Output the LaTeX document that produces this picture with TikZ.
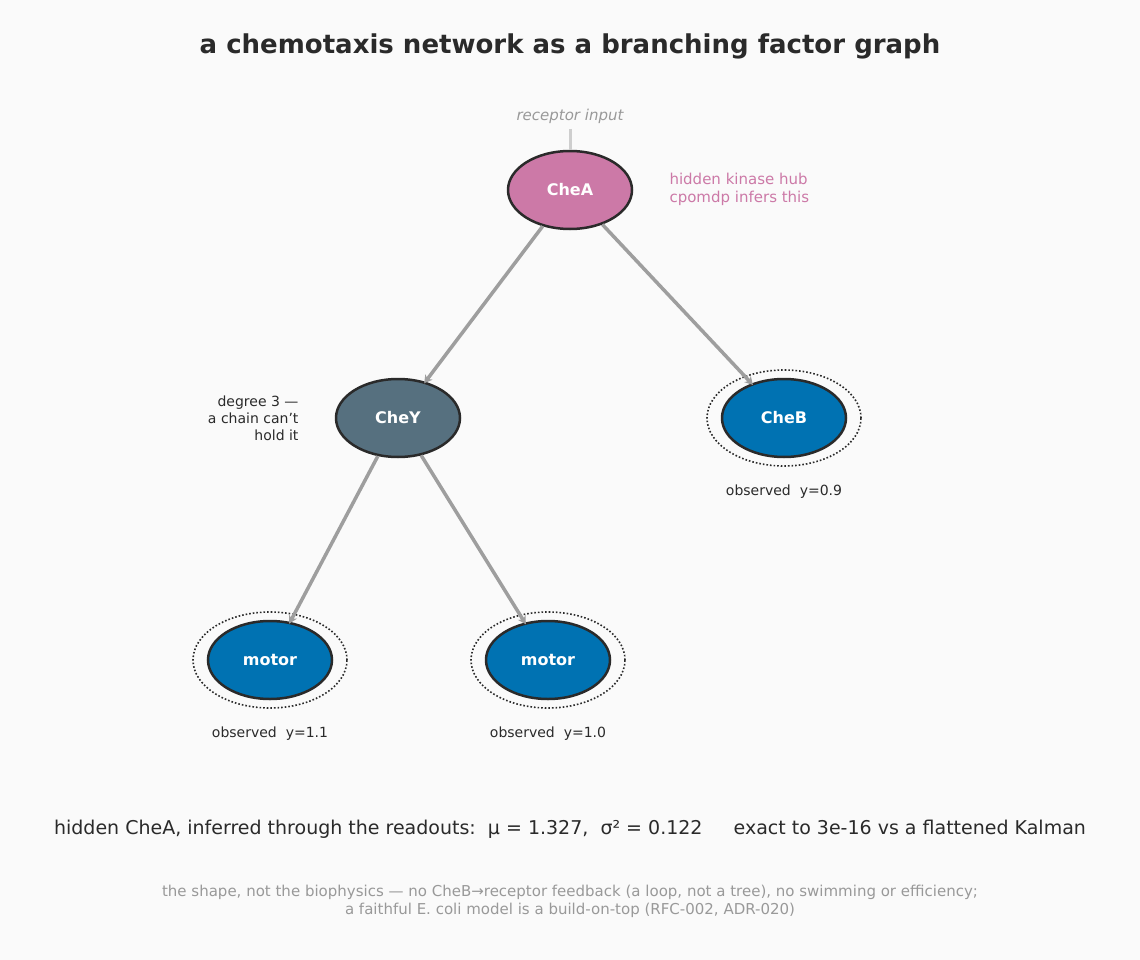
\documentclass[tikz,border=0pt]{standalone}
\usepackage{fontspec}
\setmainfont{DejaVu Sans}
\usetikzlibrary{shapes.geometric, arrows.meta}
\definecolor{bgc}{HTML}{FAFAFA}
\definecolor{ink}{HTML}{2A2A2A}
\definecolor{hub}{HTML}{CC79A7}
\definecolor{obs}{HTML}{0072B2}
\definecolor{mid}{HTML}{56707F}
\definecolor{edgec}{HTML}{9E9E9E}
\definecolor{faint}{HTML}{999999}

\begin{document}
\begin{tikzpicture}[x=1pt, y=-1pt,
  var/.style={ellipse, draw=ink, line width=2.5pt, minimum width=124pt, minimum height=78pt,
    inner sep=0pt, text=white, font=\fontsize{16}{18}\selectfont\bfseries},
  ring/.style={ellipse, draw=ink, dotted, line width=1.6pt, minimum width=154pt, minimum height=96pt, inner sep=0pt},
  link/.style={draw=edgec, line width=3.5pt, -{Stealth[length=8pt,width=9pt]}, shorten >=-2pt},
  note/.style={font=\fontsize{14}{17}\selectfont, text=ink}]
\fill[bgc] (0,0) rectangle (1140,960);
\useasboundingbox (0,0) rectangle (1140,960);

% Title
\node[font=\fontsize{26}{30}\selectfont\bfseries, text=ink] (title) at (570,46) {a chemotaxis network as a branching factor graph};

% Vertices
\node[var, fill=hub] (chea) at (570,190) {CheA};
\node[var, fill=mid] (chey) at (398,418) {CheY};
\node[var, fill=obs] (cheb) at (784,418) {CheB};
\node[var, fill=obs] (m1) at (270,660) {motor};
\node[var, fill=obs] (m2) at (548,660) {motor};

% Observation rings
\foreach \n in {cheb,m1,m2}{
  \node[ring] (r\n) at (\n) {};
}

% Input stub
\node[font=\fontsize{15}{18}\selectfont\itshape, text=faint] (inp) at (570,116) {receptor input};
\coordinate (stub) at (570,129);
\draw[draw=edgec!50, line width=3pt] (stub) -- (chea.north);

% Edges
\draw[link] (chea) -- (chey);
\draw[link] (chea) -- (cheb);
\draw[link] (chey) -- (m1);
\draw[link] (chey) -- (m2);

% Labels
\node[font=\fontsize{15}{18}\selectfont, text=hub, align=left, anchor=west] (hubnote) at (666,189) {hidden kinase hub\\cpomdp infers this};
\node[note, align=right, anchor=east] (degnote) at (302,418) {degree 3 —\\a chain can't\\hold it};
\node[note] (ob) at (784,492) {observed\ \ y=0.9};
\node[note] (o1) at (270,734) {observed\ \ y=1.1};
\node[note] (o2) at (548,734) {observed\ \ y=1.0};

% Readout
\node[font=\fontsize{19}{22}\selectfont, text=ink] (res) at (570,829) {hidden CheA, inferred through the readouts:\ \ μ = 1.327,\ \ σ² = 0.122\quad\ \ exact to 3e-16 vs a flattened Kalman};
\node[font=\fontsize{15}{18}\selectfont, text=faint, align=center] (foot) at (570,901) {the shape, not the biophysics — no CheB→receptor feedback (a loop, not a tree), no swimming or efficiency;\\a faithful E. coli model is a build-on-top (RFC-002, ADR-020)};
\end{tikzpicture}
\end{document}
